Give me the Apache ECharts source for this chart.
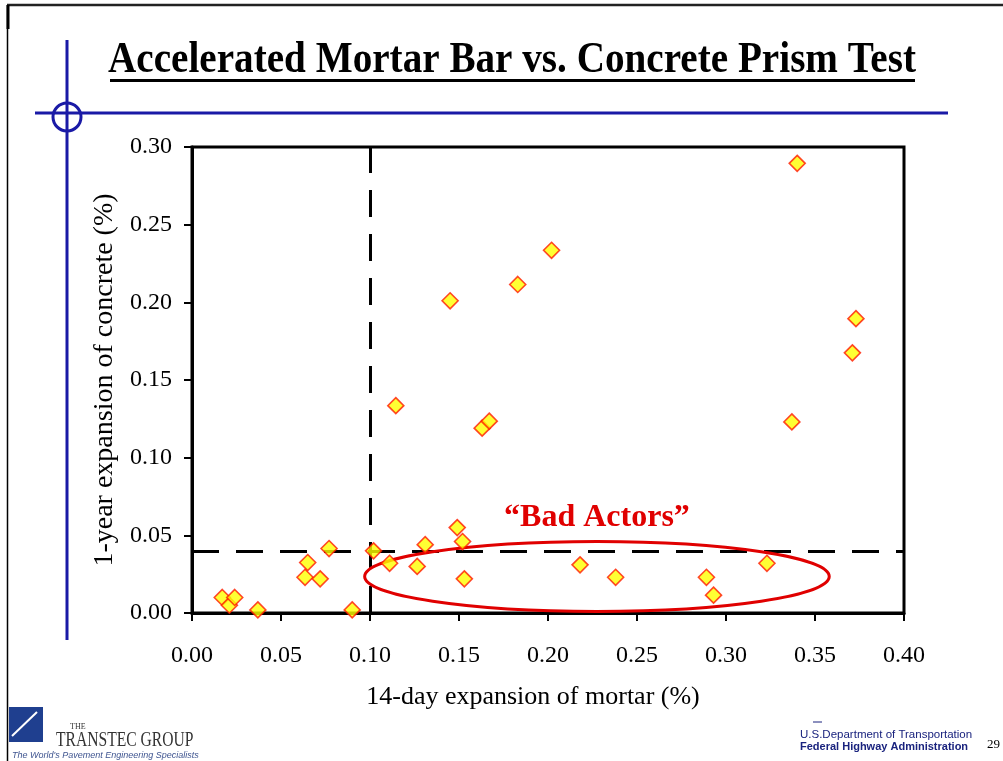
<!DOCTYPE html>
<html>
<head>
<meta charset="utf-8">
<script src="https://cdn.jsdelivr.net/npm/echarts@6/dist/echarts.min.js"></script>
<style>
  html, body { margin: 0; padding: 0; background: #fff; }
  #chart { width: 1003px; height: 761px; }
</style>
</head>
<body>
<div id="chart"></div>
<script>
// 14-day mortar bar expansion (%) vs 1-year concrete prism expansion (%)
const mortar = [
  0.017, 0.021, 0.024, 0.037, 0.065, 0.0635, 0.072, 0.077, 0.090, 0.102,
  0.111, 0.1265, 0.131, 0.149, 0.152, 0.153, 0.1145, 0.163, 0.167, 0.337,
  0.218, 0.238, 0.289, 0.293, 0.323, 0.340, 0.202, 0.183, 0.145, 0.371, 0.373
]
const concrete = [
  0.010, 0.005, 0.010, 0.002, 0.0325, 0.023, 0.022, 0.0415, 0.002, 0.040,
  0.032, 0.030, 0.044, 0.055, 0.046, 0.022, 0.1335, 0.119, 0.1235, 0.123,
  0.031, 0.023, 0.023, 0.0115, 0.032, 0.2895, 0.2335, 0.2115, 0.201, 0.1675, 0.1895
]
const xTicks = [0, 0.05, 0.1, 0.15, 0.2, 0.25, 0.3, 0.35, 0.4]
const yTicks = [0, 0.05, 0.1, 0.15, 0.2, 0.25, 0.3]
// limits drawn as dashed lines
const mortarLimit = 0.10
const concreteLimit = 0.04
// "Bad Actors" ellipse: centre and radii in data units
const badActors = { cx: 0.2275, cy: 0.0235, rx: 0.1305, ry: 0.0225, labelY: 0.0615 }

const points = mortar.map((v, i) => [v, concrete[i]])
const serif = '"Liberation Serif", "Times New Roman", serif'
const sans = '"Liberation Sans Narrow", "Liberation Sans", sans-serif'
const blue = '#1a1aa6'
const navy = '#1a237e'

const chart = echarts.init(document.getElementById('chart'))
const option = {
  animation: false,
  backgroundColor: '#fff',
  grid: {
    left: 192,
    right: 99,
    top: 147,
    bottom: 148,
    show: true,
    borderColor: '#000',
    borderWidth: 3
  },
  xAxis: {
    type: 'value',
    min: xTicks[0],
    max: xTicks[xTicks.length - 1],
    interval: 0.05,
    name: '14-day expansion of mortar (%)',
    nameLocation: 'middle',
    nameGap: 71,
    // label sits a little left of the plot centre in the slide
    nameTextStyle: { fontFamily: serif, fontSize: 26, color: '#000', padding: [0, 30, 0, 0] },
    axisLine: { lineStyle: { color: '#000', width: 3 } },
    axisTick: { show: true, length: 8, lineStyle: { color: '#000', width: 2 } },
    axisLabel: {
      margin: 31,
      fontFamily: serif,
      fontSize: 24,
      color: '#000',
      formatter: v => v.toFixed(2)
    },
    splitLine: { show: false }
  },
  yAxis: {
    type: 'value',
    min: yTicks[0],
    max: yTicks[yTicks.length - 1],
    interval: 0.05,
    name: '1-year expansion of concrete (%)',
    nameLocation: 'middle',
    nameGap: 67,
    nameTextStyle: { fontFamily: serif, fontSize: 28, color: '#000' },
    axisLine: { lineStyle: { color: '#000', width: 3 } },
    axisTick: { show: true, length: 8, lineStyle: { color: '#000', width: 2 } },
    axisLabel: {
      margin: 20,
      fontFamily: serif,
      fontSize: 24,
      color: '#000',
      formatter: v => v.toFixed(2)
    },
    splitLine: { show: false }
  },
  series: [
    {
      type: 'scatter',
      data: points,
      symbol: 'diamond',
      symbolSize: 16,
      z: 5,
      itemStyle: { color: '#ffff00', borderColor: '#ff1a00', borderWidth: 1.6 },
      markLine: {
        silent: true,
        symbol: 'none',
        label: { show: false },
        lineStyle: { color: '#000', width: 3, type: [27, 17] },
        data: [{ xAxis: mortarLimit }, { yAxis: concreteLimit }],
        z: 3
      }
    },
    {
      // "Bad Actors" annotation
      type: 'custom',
      silent: true,
      z: 4,
      data: [[badActors.cx, badActors.cy]],
      renderItem: (params, api) => {
        const c = api.coord([badActors.cx, badActors.cy])
        const s = api.size([badActors.rx, badActors.ry])
        const t = api.coord([badActors.cx, badActors.labelY])
        return {
          type: 'group',
          children: [
            {
              type: 'ellipse',
              shape: { cx: c[0], cy: c[1], rx: s[0], ry: s[1] },
              style: { fill: 'none', stroke: '#e00000', lineWidth: 3 }
            },
            {
              type: 'text',
              x: t[0],
              y: t[1],
              style: {
                text: '\u201cBad Actors\u201d',
                fill: '#e00000',
                font: 'bold 32px ' + serif,
                align: 'center',
                verticalAlign: 'middle'
              }
            }
          ]
        }
      }
    }
  ],
  graphic: [
    // slide frame
    { type: 'line', shape: { x1: 7, y1: 5, x2: 1003, y2: 5 }, style: { stroke: '#222', lineWidth: 2.5 } },
    { type: 'line', shape: { x1: 7.5, y1: 5, x2: 7.5, y2: 761 }, style: { stroke: '#000', lineWidth: 1.5 } },
    { type: 'line', shape: { x1: 8, y1: 5, x2: 8, y2: 29 }, style: { stroke: '#000', lineWidth: 3 } },
    // blue crosshair decoration
    { type: 'line', shape: { x1: 67, y1: 40, x2: 67, y2: 640 }, style: { stroke: blue, lineWidth: 3 } },
    { type: 'line', shape: { x1: 35, y1: 113, x2: 948, y2: 113 }, style: { stroke: blue, lineWidth: 3 } },
    { type: 'circle', shape: { cx: 67, cy: 117, r: 14 }, style: { fill: 'none', stroke: blue, lineWidth: 3 } },
    // title
    {
      type: 'text', x: 512, y: 39, scaleX: 0.89,
      style: {
        text: 'Accelerated Mortar Bar vs. Concrete Prism Test',
        font: 'bold 44px ' + serif,
        fill: '#000',
        align: 'center',
        verticalAlign: 'top'
      }
    },
    { type: 'line', shape: { x1: 110, y1: 80.5, x2: 915, y2: 80.5 }, style: { stroke: '#000', lineWidth: 3 } },
    // Transtec logo
    { type: 'rect', shape: { x: 9, y: 707, width: 34, height: 35 }, style: { fill: '#1f3f8f' } },
    { type: 'line', shape: { x1: 12, y1: 736, x2: 37, y2: 712 }, style: { stroke: '#fff', lineWidth: 2 } },
    { type: 'text', x: 70, y: 723, style: { text: 'THE', font: '8px ' + serif, fill: '#333' } },
    { type: 'text', x: 56, y: 731, scaleX: 0.78, style: { text: 'TRANSTEC GROUP', font: '20px ' + serif, fill: '#333' } },
    { type: 'text', x: 12, y: 751, style: { text: "The World's Pavement Engineering Specialists", font: 'italic 9px "Liberation Sans", sans-serif', fill: '#3f5590' } },
    // FHWA footer
    { type: 'line', shape: { x1: 813, y1: 722, x2: 822, y2: 722 }, style: { stroke: navy, lineWidth: 1 } },
    { type: 'text', x: 800, y: 729, style: { text: 'U.S.Department of Transportation', font: '11.5px ' + sans, fill: navy } },
    { type: 'text', x: 800, y: 741, style: { text: 'Federal Highway Administration', font: 'bold 11px ' + sans, fill: navy } },
    { type: 'text', x: 987, y: 738, style: { text: '29', font: '13px ' + serif, fill: '#000' } }
  ]
}
chart.setOption(option)
</script>
</body>
</html>
